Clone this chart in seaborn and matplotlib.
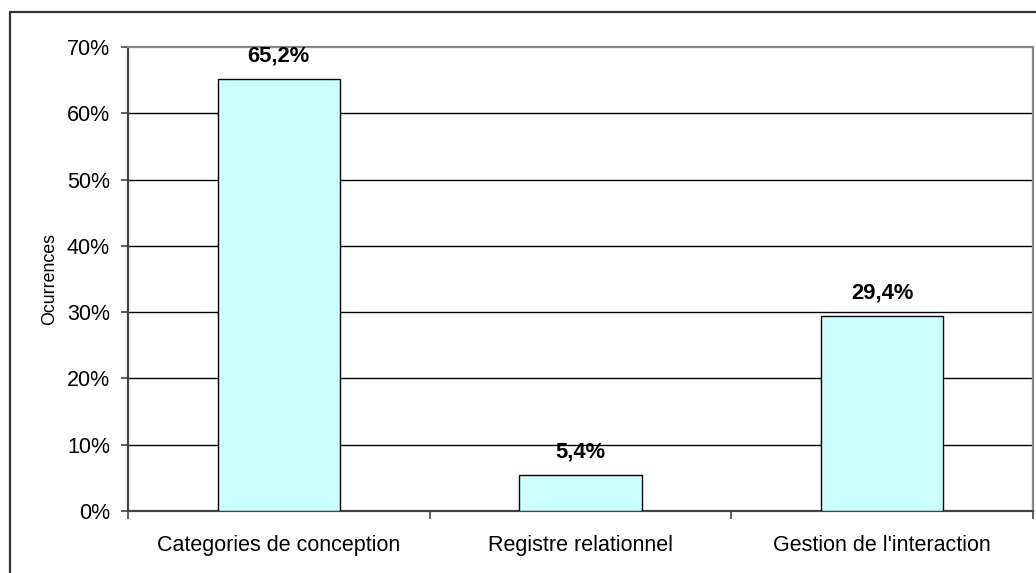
import matplotlib
matplotlib.use("Agg")
import matplotlib.pyplot as plt
import matplotlib.ticker as mticker
from matplotlib.lines import Line2D
import seaborn as sns
import pandas as pd

categories = ["Categories de conception", "Registre relationnel", "Gestion de l'interaction"]
shares = [0.652, 0.054, 0.294]
share_labels = ["65,2%", "5,4%", "29,4%"]

sns.set_theme(style="white")
plt.rcParams["font.family"] = ["Liberation Sans", "DejaVu Sans"]

W, H, DPI = 1036, 573, 100
fig = plt.figure(figsize=(W / DPI, H / DPI), dpi=DPI)
fig.patch.set_facecolor("white")

# outer chart frame (left and top edges)
frame_kw = dict(color="#333333", linewidth=1.6, transform=fig.transFigure)
fig.add_artist(Line2D([10 / W, 10 / W], [0, 1 - 12 / H], **frame_kw))
fig.add_artist(Line2D([10 / W, 1], [1 - 12 / H, 1 - 12 / H], **frame_kw))

left, right, top, bottom = 128, 1033, 47, 511
ax = fig.add_axes([left / W, 1 - bottom / H, (right - left) / W, (bottom - top) / H])

df = pd.DataFrame({"cat": categories, "share": shares})
sns.barplot(data=df, x="cat", y="share", ax=ax, width=0.405,
            color="#CCFFFF", edgecolor="black", linewidth=1.0,
            saturation=1, zorder=3)

ax.set_ylim(0, 0.7)
ax.set_xlim(-0.5, 2.5)

# horizontal gridlines
for v in [0.1, 0.2, 0.3, 0.4, 0.5, 0.6]:
    ax.axhline(v, color="black", linewidth=1.0, zorder=1)

ax.yaxis.set_major_locator(mticker.MultipleLocator(0.1))
ax.yaxis.set_major_formatter(mticker.FuncFormatter(lambda v, p: f"{v * 100:.0f}%"))
ax.tick_params(axis="y", direction="out", length=5, width=1.2, color="#444444",
               labelsize=15.5, pad=8, left=True, labelcolor="black")

# category boundaries get tick marks, category centres get labels
ax.set_xticks([-0.5, 0.5, 1.5, 2.5])
ax.set_xticklabels([])
ax.set_xticks([0, 1, 2], minor=True)
ax.set_xticklabels(categories, minor=True)
ax.tick_params(axis="x", which="major", direction="out", length=6, width=1.2,
               color="#444444", bottom=True)
ax.tick_params(axis="x", which="minor", length=0, labelsize=15.5, pad=17,
               labelcolor="black")

ax.set_xlabel("")
ax.set_ylabel("Ocurrences", fontsize=12.8, color="black")
ax.yaxis.set_label_coords(-0.077, 0.5)

for side in ["left", "bottom"]:
    ax.spines[side].set_color("#444444")
    ax.spines[side].set_linewidth(1.6)
for side in ["top", "right"]:
    ax.spines[side].set_visible(True)
    ax.spines[side].set_color("#888888")
    ax.spines[side].set_linewidth(1.6)

for i, (v, lab) in enumerate(zip(shares, share_labels)):
    ax.annotate(lab, xy=(i, v), xytext=(0, 12.5), textcoords="offset points",
                ha="center", va="baseline", fontsize=15.8, fontweight="bold",
                color="black")

fig.savefig("out.png", dpi=DPI, facecolor="white")
